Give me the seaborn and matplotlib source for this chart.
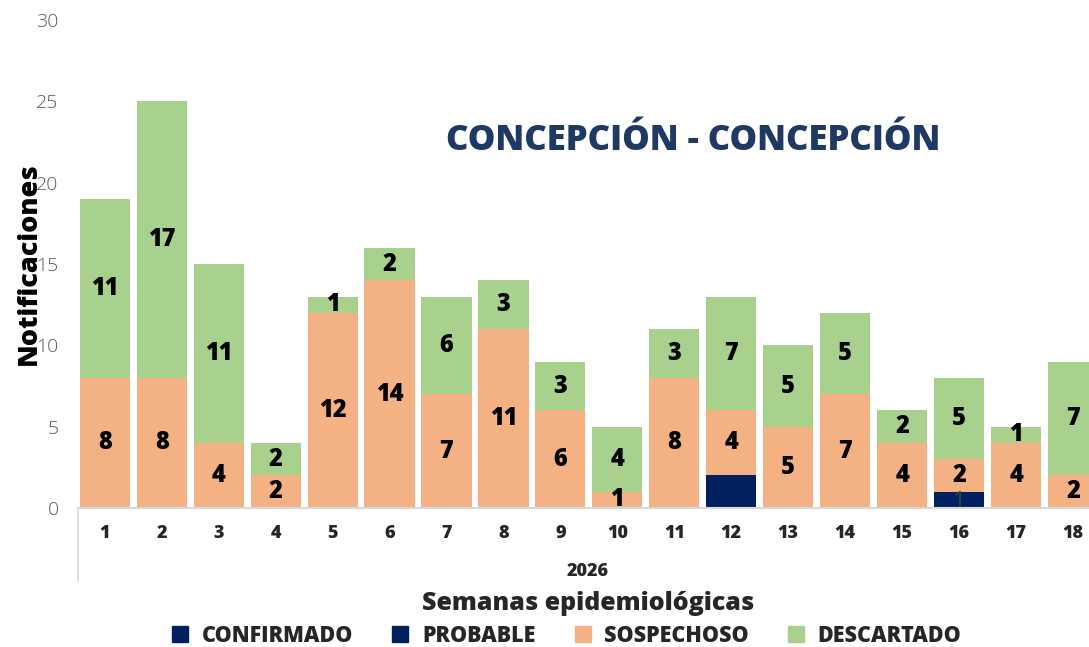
import pandas as pd
import matplotlib.pyplot as plt
import seaborn as sns
from matplotlib.lines import Line2D

# Datos
semanas = [str(i) for i in range(1, 19)]
confirmado = [0] * 18
probable = [0, 0, 0, 0, 0, 0, 0, 0, 0, 0, 0, 2, 0, 0, 0, 1, 0, 0]
sospechoso = [8, 8, 4, 2, 12, 14, 7, 11, 6, 1, 8, 4, 5, 7, 4, 2, 4, 2]
descartado = [11, 17, 11, 2, 1, 2, 6, 3, 3, 4, 3, 7, 5, 5, 2, 5, 1, 7]

df = pd.DataFrame({'semana': semanas, 'confirmado': confirmado, 'probable': probable,
                   'sospechoso': sospechoso, 'descartado': descartado})
df['base_sosp'] = df['confirmado'] + df['probable']
df['base_desc'] = df['base_sosp'] + df['sospechoso']

c_navy = '#002060'
c_sosp = '#F4B183'
c_desc = '#A9D18E'

sns.set_style('white')
plt.rcParams['font.family'] = ['Open Sans', 'DejaVu Sans']

fig = plt.figure(figsize=(10.89, 6.47), dpi=100)
ax = fig.add_axes([0.0716, 0.2148, 0.9284, 0.7543])

w = 0.88
sns.barplot(data=df, x='semana', y='probable', color=c_navy, width=w,
            saturation=1, ax=ax, linewidth=0)
sns.barplot(data=df, x='semana', y='sospechoso', bottom=df['base_sosp'], color=c_sosp,
            width=w, saturation=1, ax=ax, linewidth=0)
sns.barplot(data=df, x='semana', y='descartado', bottom=df['base_desc'], color=c_desc,
            width=w, saturation=1, ax=ax, linewidth=0)

# Etiquetas de valores
for i, row in df.iterrows():
    if row['sospechoso'] > 0:
        ax.text(i, row['base_sosp'] + row['sospechoso'] / 2, str(row['sospechoso']),
                ha='center', va='center', fontsize=17, fontweight='heavy', color='black')
    if row['descartado'] > 0:
        ax.text(i, row['base_desc'] + row['descartado'] / 2, str(row['descartado']),
                ha='center', va='center', fontsize=17, fontweight='heavy', color='black')
    if row['probable'] == 1:
        ax.text(i, row['probable'] / 2 - 0.1, str(row['probable']),
                ha='center', va='center', fontsize=16, color='#404040')

ax.set_ylim(0, 30)
ax.set_xlim(-0.47, 17.28)
ax.set_yticks(range(0, 31, 5))
ax.tick_params(axis='y', labelsize=14, labelcolor='#595959', length=0, pad=14)
ax.tick_params(axis='x', labelsize=13, length=0, pad=12)
for lbl in ax.get_yticklabels():
    lbl.set_fontweight('light')
for lbl in ax.get_xticklabels():
    lbl.set_fontweight('heavy')
for s in ['top', 'right', 'left']:
    ax.spines[s].set_visible(False)
ax.spines['bottom'].set_color('#D9D9D9')
ax.spines['bottom'].set_linewidth(1.5)

ax.set_xlabel('')
ax.set_ylabel('Notificaciones', fontsize=19.5, fontweight='heavy', color='black')
ax.yaxis.set_label_coords(-0.036, 0.5)

# separador de categoría del año
ax.plot([-0.47, -0.47], [0, -4.5], color='#D9D9D9', lw=1.2, clip_on=False)
fig.text(588 / 1089, 1 - 571 / 647, '2026', ha='center', va='center',
         fontsize=13, fontweight='heavy')
fig.text(588 / 1089, 1 - 603 / 647, 'Semanas epidemiológicas', ha='center', va='center',
         fontsize=18, fontweight='heavy')

fig.text(693 / 1089, 1 - 141 / 647, 'CONCEPCIÓN - CONCEPCIÓN', ha='center', va='center',
         fontsize=25, fontweight='heavy', color='#1F3864')

handles = [Line2D([], [], marker='s', ls='', color=c, markersize=11)
           for c in [c_navy, c_navy, c_sosp, c_desc]]
leg = fig.legend(handles, ['CONFIRMADO', 'PROBABLE', 'SOSPECHOSO', 'DESCARTADO'],
                 loc='center', bbox_to_anchor=(560 / 1089, 1 - 636 / 647), ncol=4,
                 frameon=False, handletextpad=0.0, columnspacing=1.2,
                 prop={'weight': 'heavy', 'size': 15.5})

fig.savefig('out.png', dpi=100)
